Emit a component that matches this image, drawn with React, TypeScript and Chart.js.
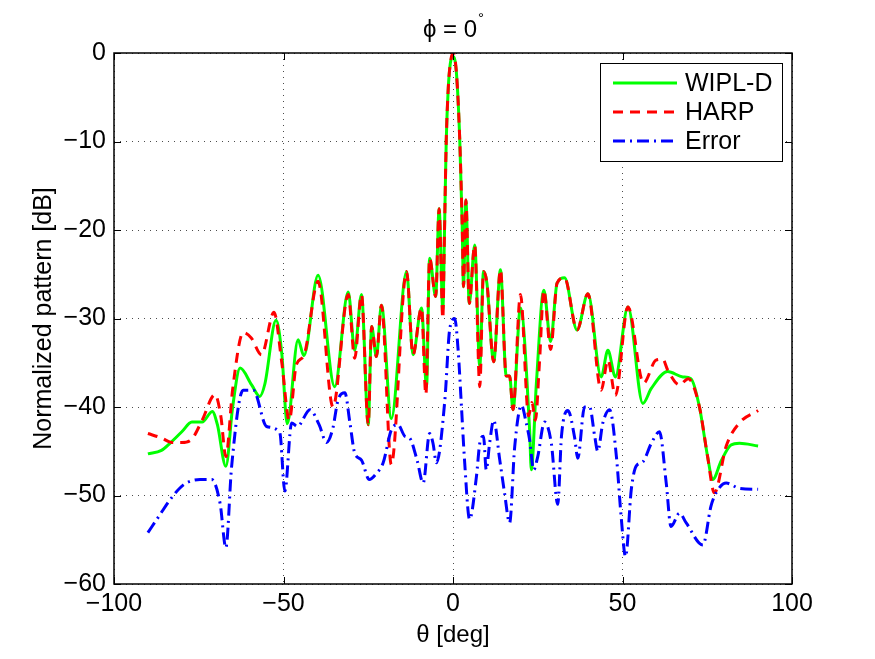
import React, { useEffect, useRef } from "react";
import { Chart, registerables } from "chart.js";

Chart.register(...registerables);

const chartTitle = "ϕ = 0";
const xLabel = "θ [deg]";
const yLabel = "Normalized pattern [dB]";
const xTicks = [-100, -50, 0, 50, 100];
const yTicks = [0, -10, -20, -30, -40, -50, -60];

const wiplTheta = [
  -90, -86, -83.5, -80, -77, -74, -71, -69.5, -67, -65, -62.8, -59.4, -57, -55.5, -52.2, -50.5, -48.9,
  -45.7, -44, -39.8, -34.9, -30.9, -29, -27, -25, -24, -22.6, -21.1, -18.2, -13.7, -11.8, -9.3, -7.8,
  -6.9, -5.1, -4.1, -3.0, -2.5, -2.0, -1.4, -0.8, 0, 1.0, 2.0, 2.7, 3.1, 3.8, 4.8, 6.4, 7.9, 9.0, 10.0,
  12.0, 14.0, 15.7, 16.7, 17.7, 19.9, 22.6, 23.1, 24.6, 26.8, 28.8, 30.7, 32.9, 36.6, 39.8, 43.7, 45.7,
  47.9, 51.6, 56.0, 58.5, 63.3, 67.8, 70.2, 72.7, 75.1, 76.6, 79.1, 82.0, 84.5, 90,
];
const wiplDb = [
  -45.3, -44.9, -44.1, -42.8, -41.7, -41.7, -40.5, -42, -46.7, -40, -35.6, -37.5, -38.8, -37.4, -30.2, -34,
  -41.9, -32.4, -34.2, -25.1, -37.7, -27.0, -33.6, -27.3, -42.0, -30.9, -34.3, -28.5, -41.3, -24.7, -34.1,
  -28.8, -37.7, -23.2, -27.5, -17.6, -29, -20, -10, -4, -1.2, -0.4, -2.2, -9.9, -19.3, -26.4, -16.6, -28.3,
  -21.7, -35.4, -24.7, -26.0, -34.9, -24.5, -36.5, -36.5, -40.3, -28.8, -42.6, -47.1, -37.3, -26.8, -32.6,
  -26.0, -25.4, -31.3, -27.2, -36.6, -33.6, -36.6, -28.7, -39.6, -37.9, -36.0, -36.6, -36.8, -40.0, -45.6,
  -48.2, -46.1, -44.3, -44.1, -44.4,
];

const harpTheta = [
  -90, -86, -83, -80, -77, -74, -70.2, -68.5, -67, -65, -61.9, -59.5, -56.5, -52.8, -50.5, -48.3, -46.2,
  -44, -39.8, -35.4, -30.9, -29, -27, -25, -24, -22.6, -21.1, -18.2, -13.7, -11.8, -9.3, -8.0, -6.9, -5.1,
  -4.1, -3.0, -2.5, -2.0, -1.4, -0.8, 0, 1.0, 2.0, 2.7, 3.1, 3.8, 4.8, 6.4, 7.9, 9.0, 10.0, 12.0, 14.0,
  15.7, 16.7, 17.7, 19.9, 22.3, 23.3, 24.3, 25.5, 26.8, 28.8, 30.7, 32.9, 36.6, 39.8, 43.7, 45.7, 47.9,
  51.6, 56.2, 59.9, 61.9, 63.3, 66.8, 69.4, 72.7, 75.1, 77.1, 80.6, 84.5, 90,
];
const harpDb = [
  -43.0, -43.5, -44.0, -44.0, -43.6, -41.5, -38.6, -41, -45.6, -38, -31.6, -32.2, -34.1, -29.3, -35, -41.5,
  -35.2, -34.2, -25.8, -40.0, -27.3, -34.5, -27.3, -42.0, -30.9, -34.3, -28.5, -46.5, -24.7, -34.1, -28.8,
  -38.6, -23.2, -27.5, -17.6, -30, -20, -10, -4, -1.2, 0, -2.2, -9.9, -19.3, -26.4, -16.6, -28.3, -21.7,
  -37.7, -24.7, -26.0, -34.9, -24.5, -36.5, -36.5, -40.3, -27.3, -41.0, -39.5, -41.5, -35, -26.8, -33.5,
  -26.0, -25.4, -31.3, -27.2, -38.1, -34.7, -38.7, -28.7, -37.3, -34.7, -34.6, -35.8, -37.5, -36.8, -40.0,
  -45.6, -49.7, -44.4, -41.8, -40.4,
];

const errTheta = [
  -90, -86.5, -83.5, -79.5, -74.6, -71.2, -68.7, -67.0, -65.3, -61.9, -58.9, -55.0, -51.1, -49.6, -47.6,
  -45.9, -42.2, -39.5, -37.3, -35.5, -33.9, -31.9, -30.4, -29.0, -27.0, -24.7, -22.6, -20.6, -18.2, -16.2,
  -14.2, -12.8, -10.6, -8.8, -6.9, -5.9, -4.9, -2.4, -1.0, 0.5, 1.5, 2.5, 3.4, 4.9, 6.9, 7.9, 9.0, 9.8,
  10.8, 12.0, 13.8, 15.2, 16.7, 18.2, 20.2, 21.6, 22.6, 23.8, 25.0, 27.0, 29.0, 30.9, 32.0, 33.9, 35.9,
  36.8, 38.8, 40.3, 41.8, 42.7, 44.2, 46.2, 48.2, 49.6, 50.9, 52.6, 54.0, 56.0, 58.5, 60.9, 62.9, 64.3,
  66.8, 68.8, 73.7, 76.1, 77.6, 80.6, 84.5, 90,
];
const errDb = [
  -54.2, -52.2, -50.5, -48.8, -48.2, -48.2, -50.9, -55.9, -46.7, -38.1, -38.1, -42.2, -42.9, -49.5, -41.8,
  -42.2, -40.3, -42, -44.0, -42.5, -39.2, -38.4, -41.8, -45.2, -46.0, -48.2, -47.5, -46.3, -42.6, -42.0,
  -43.3, -43.5, -46.0, -48.6, -43.0, -44.1, -46.3, -39.2, -31.3, -30.0, -33.5, -40.0, -46.0, -52.7, -47.9,
  -44.1, -43.3, -47.1, -44.1, -41.5, -46.0, -49.7, -53.1, -44.5, -39.8, -41.8, -43.7, -47.1, -45.6, -41.7,
  -44.1, -51.0, -43.3, -40.4, -43.5, -45.8, -40.0, -40.0, -43.3, -45.0, -41.8, -40.3, -45.6, -52.4, -56.9,
  -49.3, -46.7, -46.2, -44.1, -42.8, -48.6, -53.5, -52.0, -53.1, -55.6, -51.2, -49.7, -48.6, -49.2, -49.3,
];

const seriesNames = ["WIPL-D", "HARP", "Error"];
const seriesColors = ["#00ff00", "#ff0000", "#0000ff"];
const seriesDash: number[][] = [[], [10, 7], [12, 5, 2, 5]];

const FONT = "'Liberation Sans', Arial, Helvetica, sans-serif";
const minus = (v: number) => (v < 0 ? "\u2212" + Math.abs(v) : String(v));

const framePlugin = {
  id: "matlabFrame",
  afterDraw(chart: any) {
    const ctx = chart.ctx as CanvasRenderingContext2D;
    const { left, right, top, bottom } = chart.chartArea;
    const xs = chart.scales.x;
    const ys = chart.scales.y;
    ctx.save();
    ctx.strokeStyle = "#000";
    ctx.lineWidth = 1;
    ctx.setLineDash([]);
    ctx.beginPath();
    for (const v of xTicks) {
      const px = Math.round(xs.getPixelForValue(v)) + 0.5;
      ctx.moveTo(px, bottom);
      ctx.lineTo(px, bottom - 7);
      ctx.moveTo(px, top);
      ctx.lineTo(px, top + 7);
    }
    for (const v of yTicks) {
      const py = Math.round(ys.getPixelForValue(v)) + 0.5;
      ctx.moveTo(left, py);
      ctx.lineTo(left + 7, py);
      ctx.moveTo(right, py);
      ctx.lineTo(right - 7, py);
    }
    ctx.stroke();
    ctx.lineWidth = 1.5;
    ctx.strokeRect(left, top, right - left, bottom - top);

    // title
    ctx.fillStyle = "#000";
    ctx.font = `24px ${FONT}`;
    ctx.textBaseline = "alphabetic";
    ctx.textAlign = "left";
    const tw = ctx.measureText(chartTitle).width;
    const cx = (left + right) / 2;
    const tx = cx - tw / 2 - 3;
    ctx.fillText(chartTitle, tx, 37);
    ctx.font = `15px ${FONT}`;
    ctx.fillText("°", tx + tw + 1, 23);

    // axis titles
    ctx.font = `24px ${FONT}`;
    ctx.textAlign = "center";
    ctx.fillText(xLabel, cx, 642);
    ctx.save();
    ctx.translate(51, (top + bottom) / 2);
    ctx.rotate(-Math.PI / 2);
    ctx.font = `25px ${FONT}`;
    ctx.fillText(yLabel, 0, 0);
    ctx.restore();

    // legend
    const lx = 600, ly = 63, lw = 182, lh = 98;
    ctx.fillStyle = "#fff";
    ctx.fillRect(lx, ly, lw, lh);
    ctx.strokeStyle = "#000";
    ctx.lineWidth = 1;
    ctx.strokeRect(lx + 0.5, ly + 0.5, lw, lh);
    const rows = [83, 112, 141];
    seriesNames.forEach((name, i) => {
      ctx.strokeStyle = seriesColors[i];
      ctx.lineWidth = 3;
      ctx.setLineDash(seriesDash[i]);
      ctx.beginPath();
      ctx.moveTo(613, rows[i]);
      ctx.lineTo(677, rows[i]);
      ctx.stroke();
      ctx.setLineDash([]);
      ctx.fillStyle = "#000";
      ctx.font = `25px ${FONT}`;
      ctx.textAlign = "left";
      ctx.textBaseline = "middle";
      ctx.fillText(name, 685, rows[i] + 1);
    });
    ctx.restore();
  },
};

export default function App() {
  const ref = useRef<HTMLCanvasElement | null>(null);
  useEffect(() => {
    if (!ref.current) return;
    const thetas = [wiplTheta, harpTheta, errTheta];
    const dbs = [wiplDb, harpDb, errDb];
    const orders = [3, 2, 1];
    const chart = new Chart(ref.current, {
      type: "line",
      data: {
        datasets: seriesNames.map((name, i) => ({
          label: name,
          data: thetas[i].map((t, j) => ({ x: t, y: dbs[i][j] })),
          borderColor: seriesColors[i],
          backgroundColor: seriesColors[i],
          borderWidth: 3,
          borderDash: seriesDash[i],
          pointRadius: 0,
          fill: false,
          cubicInterpolationMode: "monotone" as const,
          order: orders[i],
        })),
      },
      options: {
        animation: false,
        responsive: false,
        devicePixelRatio: 1,
        layout: { padding: { left: 0, top: 53, right: 83, bottom: 0 } },
        plugins: {
          legend: { display: false },
          title: { display: false },
          tooltip: { enabled: false },
        },
        scales: {
          x: {
            type: "linear",
            min: -100,
            max: 100,
            afterFit: (s: any) => {
              s.height = 75;
            },
            afterBuildTicks: (s: any) => {
              s.ticks = xTicks.map((v) => ({ value: v }));
            },
            ticks: {
              callback: (v: any) => minus(Number(v)),
              font: { family: FONT, size: 25 },
              color: "#000",
              padding: 5,
              maxRotation: 0,
            },
            grid: { color: "rgba(0,0,0,0.7)", lineWidth: 1, drawTicks: false },
            border: { display: false, dash: [1, 5] },
          },
          y: {
            type: "linear",
            min: -60,
            max: 0,
            afterFit: (s: any) => {
              s.width = 114;
            },
            afterBuildTicks: (s: any) => {
              s.ticks = yTicks.map((v) => ({ value: v }));
            },
            ticks: {
              callback: (v: any) => minus(Number(v)),
              font: { family: FONT, size: 25 },
              color: "#000",
              padding: 8,
            },
            grid: { color: "rgba(0,0,0,0.7)", lineWidth: 1, drawTicks: false },
            border: { display: false, dash: [1, 5] },
          },
        },
      },
      plugins: [framePlugin],
    });
    return () => chart.destroy();
  }, []);
  return (
    <div style={{ position: "absolute", left: 0, top: 0, width: 875, height: 659, background: "#fff" }}>
      <canvas ref={ref} width={875} height={659} style={{ width: 875, height: 659, display: "block" }} />
    </div>
  );
}
